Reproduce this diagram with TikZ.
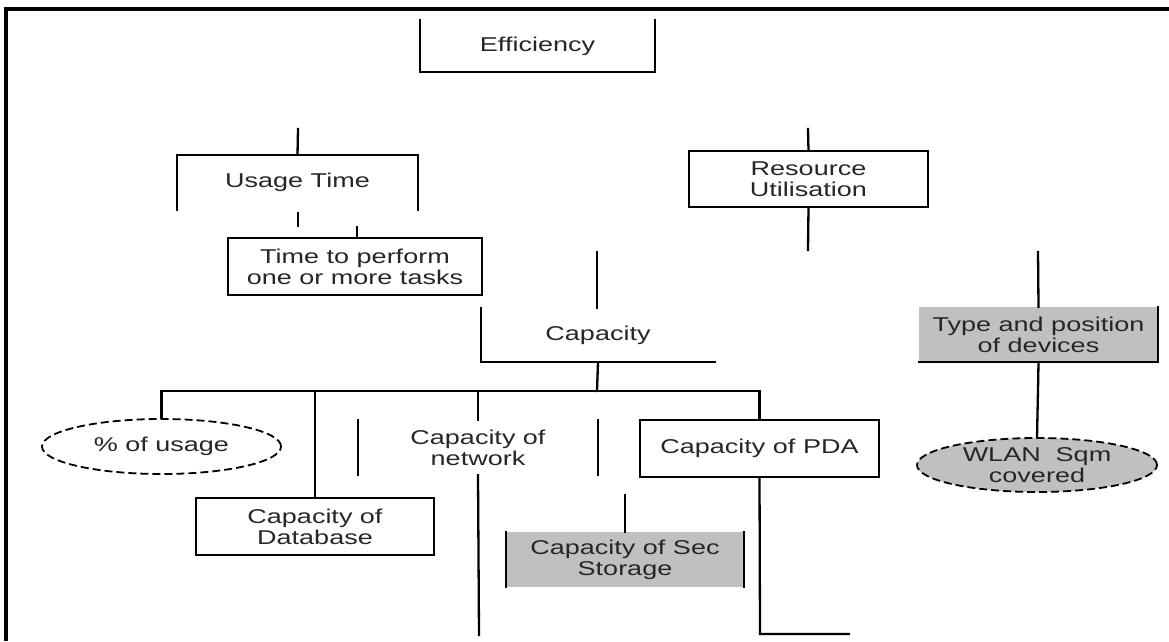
\documentclass[tikz,border=0pt]{standalone}
\usepackage{fontspec}
\setmainfont[FakeStretch=1.35]{Liberation Sans}
\usetikzlibrary{shapes.geometric}
\definecolor{boxgrey}{RGB}{192,192,192}
\tikzset{
  lbl/.style={font=\fontsize{20}{21}\selectfont, align=center, text=black!85, inner sep=0pt},
  boxn/.style={lbl, rectangle, draw=none},
  edge/.style={line width=2.3pt, line cap=rect},
  frame/.style={line width=4pt},
  dashell/.style={lbl, ellipse, draw, line width=1.8pt, dash pattern=on 8pt off 4pt},
}
\begin{document}
\begin{tikzpicture}[x=1pt,y=-1pt]
\useasboundingbox (0,0) rectangle (1169,641);
% outer frame
\draw[frame] (1169,9) -- (6.3,9) -- (6.3,641);

% nodes
\node[boxn, minimum width=235pt, minimum height=52pt] (eff) at (537.5,46) {Efficiency};
\node[boxn, minimum width=241pt, minimum height=55pt] (usage) at (297.5,182.5) {Usage Time};
\node[boxn, minimum width=254pt, minimum height=57pt] (time) at (355,266.5) {Time to perform\\one or more tasks};
\node[boxn, minimum width=239pt, minimum height=56pt] (res) at (808.5,179) {Resource\\Utilisation};
\node[boxn, minimum width=234pt, minimum height=54pt] (cap) at (598,335) {Capacity};
\node[boxn, minimum width=239pt, minimum height=55pt, fill=boxgrey] (type) at (1038.5,334.5) {Type and position\\of devices};
\node[dashell, minimum width=240pt, minimum height=54pt, fill=boxgrey] (wlan) at (1037,465) {WLAN\ \ Sqm\\covered};
\node[dashell, minimum width=239pt, minimum height=55pt] (pct) at (161.5,446.5) {\% of usage};
\node[boxn, minimum width=239pt, minimum height=55pt] (net) at (478,447.5) {Capacity of\\network};
\node[boxn, minimum width=238pt, minimum height=57pt] (db) at (315,526.5) {Capacity of\\Database};
\node[boxn, minimum width=238pt, minimum height=55pt, fill=boxgrey] (sec) at (625,559.5) {Capacity of Sec\\Storage};
\node[boxn, minimum width=239pt, minimum height=57pt] (pda) at (759.5,448.5) {Capacity of PDA};

% visible box edges
\draw[edge] (eff.north west) -- (eff.south west) -- (eff.south east) -- (eff.north east);
\draw[edge] (usage.south west) -- (usage.north west) -- (usage.north east) -- (usage.south east);
\draw[edge] (time.north west) rectangle (time.south east);
\draw[edge] (res.north west) rectangle (res.south east);
\draw[edge] (cap.north west) -- (cap.south west) -- (cap.south east);
\draw[edge] (type.north east) -- (type.south east) -- (type.south west);
\draw[edge] (net.north west) -- (net.south west);
\draw[edge] (net.north east) -- (net.south east);
\draw[edge] (db.north west) rectangle (db.south east);
\draw[edge] (sec.north west) -- (sec.south west);
\draw[edge] (sec.north east) -- (sec.south east);
\draw[edge] (pda.north west) rectangle (pda.south east);

% free-end coordinates
\coordinate (usagetop) at (298,129);
\coordinate (restop) at (808,129);
\coordinate (resbot) at (808,250);
\coordinate (capin) at (597,252);
\coordinate (typein) at (1038,252);
\coordinate (ua) at (298,213);
\coordinate (ub) at (298,226);
\coordinate (tin) at (357,227);
\coordinate (bus) at (597,391);
\coordinate (netend) at (479,635);
\coordinate (secin) at (625,495);
\coordinate (pdacorner) at (760,634);
\coordinate (pdaend) at (849,634);
\coordinate (jog) at (1038,390);

% connectors
\draw[edge] (usagetop) -- (usage.north);
\draw[edge] (ua) -- (ub);
\draw[edge] (tin) -- (tin |- time.north);
\draw[edge] (restop) -- (res.north);
\draw[edge] (res.south) -- (resbot);
\draw[edge] (capin) -- (capin |- cap.north);
\draw[edge] (typein) -- (type.north);
\draw[edge] (type.south) -- (jog) -- (wlan.north);
\draw[edge] (cap.south) -- (bus);
\draw[edge] (pct.north) |- (bus) -| (pda.north);
\draw[edge] (db.north) -- (db.north |- bus);
\draw[edge] (net.north) -- (net.north |- bus);
\draw[edge] (net.south) -- (netend);
\draw[edge] (secin) -- (sec.north);
\draw[edge] (pda.south) -- (pdacorner) -- (pdaend);
\end{tikzpicture}
\end{document}
